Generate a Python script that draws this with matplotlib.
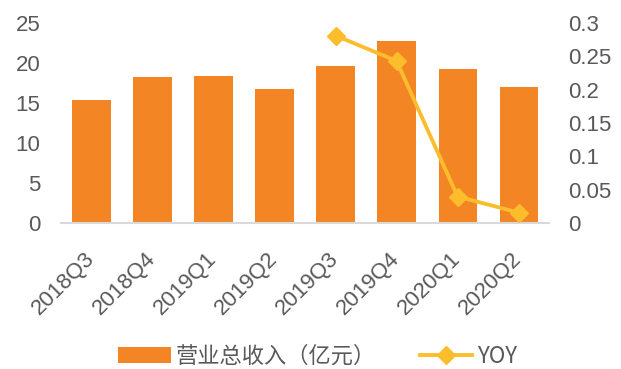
import matplotlib.pyplot as plt
import matplotlib.transforms as mtransforms
import numpy as np

plt.rcParams['font.family'] = ['Liberation Sans', 'Noto Sans CJK SC', 'DejaVu Sans']

quarters = ['2018Q3', '2018Q4', '2019Q1', '2019Q2', '2019Q3', '2019Q4', '2020Q1', '2020Q2']
revenue = [15.4, 18.2, 18.4, 16.8, 19.6, 22.7, 19.2, 17.05]
yoy = [np.nan, np.nan, np.nan, np.nan, 0.281, 0.243, 0.040, 0.016]

bar_color = '#F48524'
line_color = '#FBBD2C'
text_color = '#595959'

fig = plt.figure(figsize=(6.21, 3.69), dpi=100)
ax = fig.add_axes([0.0982, 0.395, 0.786, 0.543])
x = np.arange(len(quarters))
ax.bar(x, revenue, width=0.625, color=bar_color, label='营业总收入（亿元）', zorder=2)
ax.set_xlim(-0.5, len(quarters) - 0.5)
ax.set_ylim(0, 25)
ax.set_yticks(range(0, 26, 5))
ax.set_xticks(x)
ax.set_xticklabels(quarters, rotation=45, ha='right', va='center', rotation_mode='anchor')
# nudge rotated labels a little to the right, like the original
shift = mtransforms.ScaledTranslation(4 / 72, 0, fig.dpi_scale_trans)
for lab in ax.get_xticklabels():
    lab.set_transform(lab.get_transform() + shift)
for s in ['top', 'right', 'left']:
    ax.spines[s].set_visible(False)
ax.spines['bottom'].set_color('#D9D9D9')
ax.spines['bottom'].set_linewidth(1.5)
ax.tick_params(axis='both', length=0, labelsize=16, colors=text_color)
ax.tick_params(axis='y', pad=15)
ax.tick_params(axis='x', pad=23)

# YOY on secondary axis
ax2 = ax.twinx()
ax2.plot(x, yoy, color=line_color, lw=2.75, marker='D', markersize=9, label='YOY', zorder=3)
ax2.set_ylim(0, 0.3)
ax2.set_yticks([0, 0.05, 0.1, 0.15, 0.2, 0.25, 0.3])
ax2.set_yticklabels(['0', '0.05', '0.1', '0.15', '0.2', '0.25', '0.3'])
for s in ax2.spines.values():
    s.set_visible(False)
ax2.tick_params(axis='y', length=0, labelsize=16, colors=text_color, pad=14)

h1, l1 = ax.get_legend_handles_labels()
h2, l2 = ax2.get_legend_handles_labels()
leg = fig.legend(h1 + h2, l1 + l2, loc='center', bbox_to_anchor=(0.512, 0.035), ncol=2,
                 frameon=False, handlelength=2.35, handletextpad=0.25, columnspacing=1.95,
                 prop={'family': ['Noto Sans CJK SC', 'DejaVu Sans'], 'size': 16})
for t in leg.get_texts():
    t.set_color(text_color)

fig.savefig('out.png', dpi=100)
